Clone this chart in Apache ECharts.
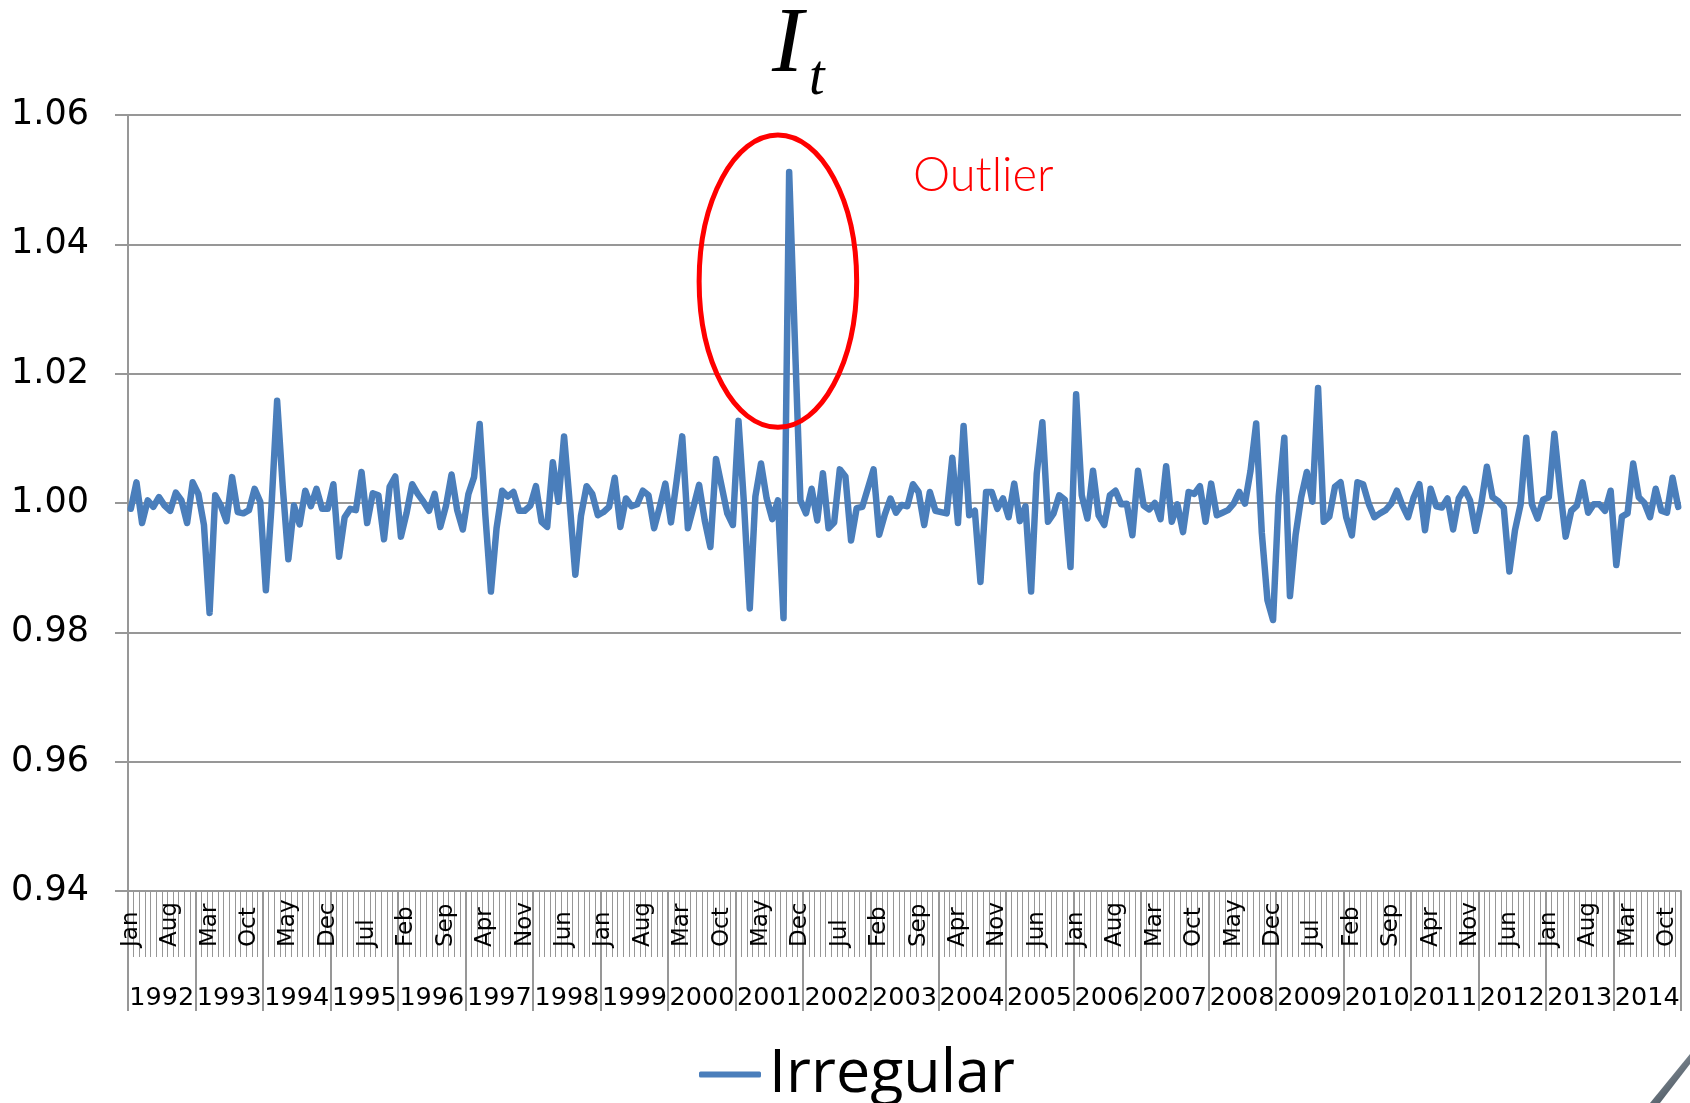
<!DOCTYPE html>
<html>
<head>
<meta charset="utf-8">
<script src="https://cdn.jsdelivr.net/npm/echarts@6/dist/echarts.min.js"></script>
<style>
  html, body { margin: 0; padding: 0; background: #fff; }
  #chart { width: 1690px; height: 1103px; }
</style>
</head>
<body>
<div id="chart"></div>
<script>
// irregular component I_t, monthly, Jan 1992 - Dec 2014
const years = ['1992', '1993', '1994', '1995', '1996', '1997', '1998', '1999', '2000', '2001', '2002', '2003',
  '2004', '2005', '2006', '2007', '2008', '2009', '2010', '2011', '2012', '2013', '2014'];
const monthNames = ['Jan', 'Feb', 'Mar', 'Apr', 'May', 'Jun', 'Jul', 'Aug', 'Sep', 'Oct', 'Nov', 'Dec'];
const yTicks = [0.94, 0.96, 0.98, 1.00, 1.02, 1.04, 1.06];

const irregular = [
  0.9991, 1.0032, 0.9969, 1.0004, 0.9994, 1.0009, 0.9996, 0.9988, 1.0016, 1.0004, 0.9969, 1.0032, // 1992
  1.0014, 0.9966, 0.9830, 1.0012, 0.9996, 0.9972, 1.0040, 0.9986, 0.9984, 0.9989, 1.0022, 1.0002, // 1993
  0.9865, 0.9995, 1.0158, 1.0025, 0.9913, 0.9996, 0.9967, 1.0019, 0.9995, 1.0022, 0.9991, 0.9991, // 1994
  1.0029, 0.9917, 0.9978, 0.9991, 0.9989, 1.0048, 0.9969, 1.0015, 1.0012, 0.9944, 1.0025, 1.0041, // 1995
  0.9948, 0.9984, 1.0029, 1.0014, 1.0002, 0.9988, 1.0014, 0.9963, 0.9995, 1.0044, 0.9989, 0.9959, // 1996
  1.0014, 1.0040, 1.0122, 0.9982, 0.9863, 0.9961, 1.0019, 1.0010, 1.0017, 0.9988, 0.9988, 0.9996, // 1997
  1.0026, 0.9971, 0.9963, 1.0063, 1.0002, 1.0103, 1.0000, 0.9889, 0.9980, 1.0026, 1.0014, 0.9981, // 1998
  0.9986, 0.9994, 1.0039, 0.9963, 1.0007, 0.9995, 0.9998, 1.0019, 1.0012, 0.9961, 0.9994, 1.0030, // 1999
  0.9970, 1.0034, 1.0103, 0.9961, 0.9994, 1.0028, 0.9973, 0.9932, 1.0068, 1.0026, 0.9984, 0.9966, // 2000
  1.0127, 0.9995, 0.9837, 1.0010, 1.0061, 1.0007, 0.9975, 1.0004, 0.9822, 1.0512, 1.0255, 1.0004, // 2001
  0.9984, 1.0022, 0.9973, 1.0046, 0.9961, 0.9970, 1.0052, 1.0041, 0.9942, 0.9992, 0.9994, 1.0023, // 2002
  1.0052, 0.9951, 0.9982, 1.0007, 0.9985, 0.9997, 0.9995, 1.0029, 1.0017, 0.9966, 1.0017, 0.9988, // 2003
  0.9986, 0.9984, 1.0070, 0.9969, 1.0119, 0.9981, 0.9988, 0.9878, 1.0017, 1.0017, 0.9991, 1.0007, // 2004
  0.9978, 1.0030, 0.9972, 0.9995, 0.9863, 1.0045, 1.0125, 0.9971, 0.9984, 1.0012, 1.0005, 0.9901, // 2005
  1.0168, 1.0012, 0.9976, 1.0050, 0.9981, 0.9966, 1.0012, 1.0019, 0.9998, 0.9999, 0.9950, 1.0050, // 2006
  0.9996, 0.9990, 1.0000, 0.9975, 1.0057, 0.9971, 0.9998, 0.9955, 1.0017, 1.0014, 1.0026, 0.9971, // 2007
  1.0030, 0.9981, 0.9985, 0.9989, 0.9999, 1.0017, 0.9999, 1.0050, 1.0123, 0.9954, 0.9850, 0.9819, // 2008
  1.0010, 1.0101, 0.9856, 0.9950, 1.0009, 1.0048, 1.0002, 1.0178, 0.9971, 0.9979, 1.0025, 1.0032, // 2009
  0.9978, 0.9950, 1.0032, 1.0029, 0.9999, 0.9978, 0.9984, 0.9989, 0.9999, 1.0019, 0.9996, 0.9978, // 2010
  1.0009, 1.0029, 0.9958, 1.0022, 0.9995, 0.9993, 1.0007, 0.9959, 1.0007, 1.0022, 1.0004, 0.9957, // 2011
  0.9999, 1.0056, 1.0009, 1.0003, 0.9993, 0.9894, 0.9958, 0.9998, 1.0101, 0.9998, 0.9976, 1.0005, // 2012
  1.0009, 1.0107, 1.0022, 0.9948, 0.9988, 0.9996, 1.0032, 0.9985, 0.9998, 0.9998, 0.9988, 1.0019, // 2013
  0.9904, 0.9979, 0.9984, 1.0061, 1.0009, 1.0000, 0.9978, 1.0022, 0.9988, 0.9985, 1.0039, 0.9994  // 2014
];

// outlier annotation, in data units (category index, value)
const outlierCenter = [115.2, 1.0343];
const outlierHalfWidth = 13.8;   // categories
const outlierHalfHeight = 0.0226;
const outlierLabelAt = [139.3, 1.0506];

let months = [];
years.forEach(y => monthNames.forEach(m => months.push(m)));

const gridColor = '#979797';
let chart = echarts.init(document.getElementById('chart'));

chart.setOption({
  animation: false,
  backgroundColor: '#fff',
  grid: { left: 128, right: 9, top: 115, bottom: 212, containLabel: false },
  legend: {
    left: 694,
    top: 1039,
    itemWidth: 62,
    itemHeight: 6,
    itemGap: 10,
    icon: 'roundRect',
    textStyle: { fontFamily: 'Open Sans', fontSize: 61, color: '#000', padding: [0, 0, 0, 3] },
    data: ['Irregular']
  },
  xAxis: [
    {
      type: 'category',
      position: 'bottom',
      data: months,
      boundaryGap: true,
      axisLine: { lineStyle: { color: gridColor, width: 2 } },
      axisTick: { show: true, interval: 0, length: 66, lineStyle: { color: gridColor, width: 1 } },
      axisLabel: {
        interval: 6,
        rotate: 90,
        align: 'left',
        verticalAlign: 'middle',
        margin: 56,
        fontFamily: 'DejaVu Sans',
        fontSize: 23,
        color: '#000'
      }
    },
    {
      type: 'category',
      position: 'bottom',
      offset: 0,
      data: years,
      boundaryGap: true,
      axisLine: { show: false },
      axisTick: { show: true, interval: 0, length: 120, lineStyle: { color: gridColor, width: 2 } },
      axisLabel: {
        interval: 0,
        margin: 94,
        fontFamily: 'DejaVu Sans',
        fontSize: 25.5,
        color: '#000'
      }
    }
  ],
  yAxis: {
    type: 'value',
    min: 0.94,
    max: 1.06,
    interval: 0.02,
    axisLine: { show: true, lineStyle: { color: gridColor, width: 2 } },
    axisTick: { show: true, length: 13, lineStyle: { color: gridColor, width: 2 } },
    axisLabel: {
      margin: 39,
      fontFamily: 'DejaVu Sans',
      fontSize: 35,
      color: '#000',
      formatter: v => yTicks.includes(+v.toFixed(2)) ? v.toFixed(2) : ''
    },
    splitLine: { show: true, lineStyle: { color: gridColor, width: 2 } }
  },
  series: [
    {
      name: 'Irregular',
      type: 'line',
      xAxisIndex: 0,
      data: irregular,
      showSymbol: false,
      symbol: 'none',
      color: '#4A7EBB',
      lineStyle: { width: 6.5, color: '#4A7EBB', cap: 'round', join: 'round' }
    }
  ]
});

// annotations placed through the axes
let c = chart.convertToPixel({ gridIndex: 0 }, outlierCenter);
let e1 = chart.convertToPixel({ gridIndex: 0 }, [outlierCenter[0] + outlierHalfWidth, outlierCenter[1] + outlierHalfHeight]);
let lab = chart.convertToPixel({ gridIndex: 0 }, outlierLabelAt);

chart.setOption({
  graphic: [
    {
      type: 'text',
      x: 772,
      y: 46,
      style: {
        text: 'I',
        font: 'italic 94px "Liberation Serif"',
        fill: '#000',
        verticalAlign: 'middle'
      }
    },
    {
      type: 'text',
      x: 809,
      y: 79,
      style: {
        text: 't',
        font: 'italic 56px "Liberation Serif"',
        fill: '#000',
        verticalAlign: 'middle'
      }
    },
    {
      type: 'ellipse',
      shape: { cx: c[0], cy: c[1], rx: Math.abs(e1[0] - c[0]), ry: Math.abs(c[1] - e1[1]) },
      style: { fill: 'none', stroke: '#FF0000', lineWidth: 5 },
      z: 10
    },
    {
      type: 'text',
      x: lab[0],
      y: lab[1],
      style: {
        text: 'Outlier',
        font: '300 47px Lato',
        fill: '#FF0000',
        verticalAlign: 'middle'
      }
    },
    {
      // page-curl shading in the bottom-right corner of the slide
      type: 'polygon',
      shape: { points: [[1690, 1054], [1690, 1064], [1660, 1103], [1650, 1103]] },
      style: {
        fill: new echarts.graphic.LinearGradient(0, 0, 1, 1, [
          { offset: 0, color: '#9aa3ab' },
          { offset: 1, color: '#3c4853' }
        ])
      }
    }
  ]
});
</script>
</body>
</html>
